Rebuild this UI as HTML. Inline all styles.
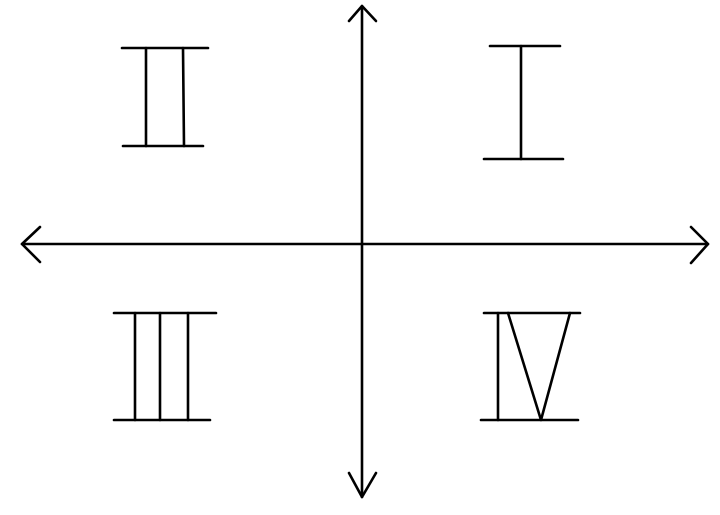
<!DOCTYPE html>
<html><head><meta charset="utf-8"><style>html,body{margin:0;padding:0;background:#fff;}svg{display:block}</style></head>
<body>
<svg width="720" height="515" viewBox="0 0 720 515" xmlns="http://www.w3.org/2000/svg">
<g stroke="#000" stroke-width="2.6" fill="none" stroke-linecap="round" stroke-linejoin="round">
<!-- axes -->
<path d="M362 6 L362 497"/>
<path d="M349 21 L362 6 L376 21"/>
<path d="M349 473 L362 497 L376 473"/>
<path d="M22 244 L708 244"/>
<path d="M40 227 L22 244 L40 262"/>
<path d="M691 227 L708 244 L691 263"/>
<!-- II -->
<path d="M122 48 L208 48"/>
<path d="M123 146 L203 146"/>
<path d="M146 48 L146 146"/>
<path d="M183 48 L184 146"/>
<!-- I -->
<path d="M490 46 L560 46"/>
<path d="M484 159 L563 159"/>
<path d="M521 46 L521 159"/>
<!-- III -->
<path d="M114 313 L216 313"/>
<path d="M114 420 L210 420"/>
<path d="M135 313 L135 420"/>
<path d="M160 313 L160 420"/>
<path d="M188 313 L188 420"/>
<!-- IV -->
<path d="M484 313 L580 313"/>
<path d="M481 420 L578 420"/>
<path d="M498 313 L498 420"/>
<path d="M508 313 L541 420 L570 313"/>
</g>
</svg>
</body></html>
